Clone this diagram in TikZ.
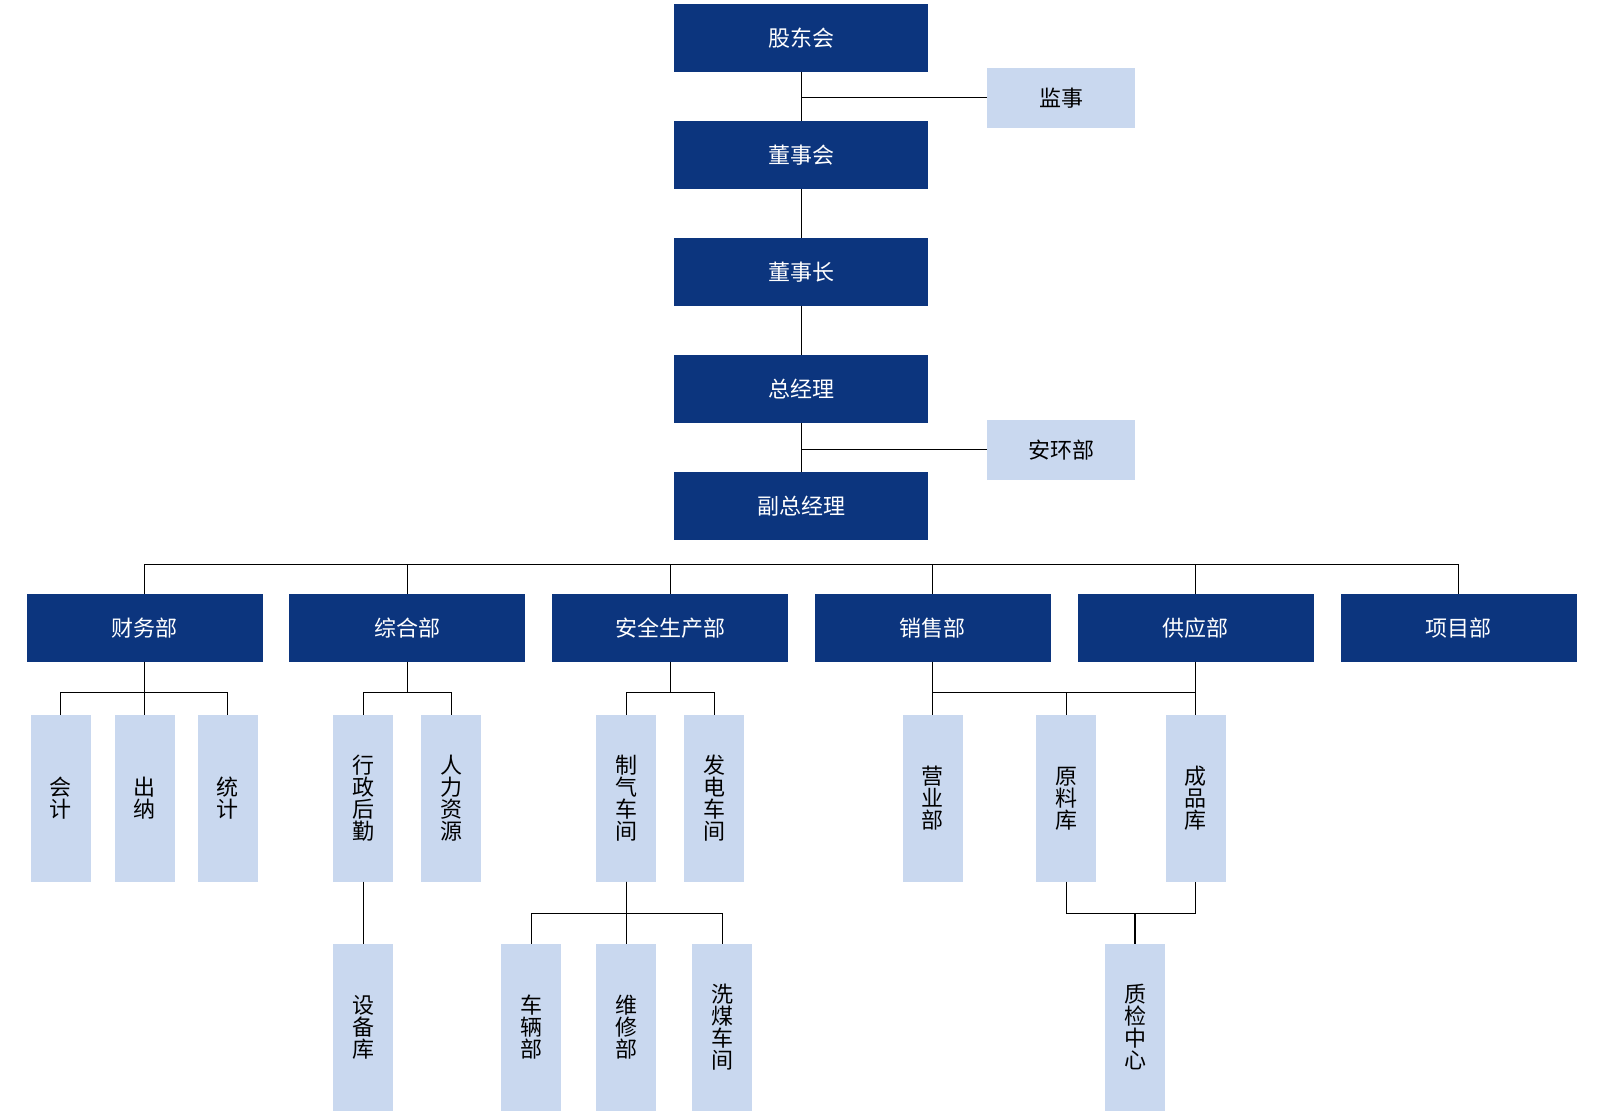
\documentclass[tikz,border=0pt]{standalone}
\usepackage{fontspec}
\newfontfamily\cjk{Noto Sans CJK SC}
\usetikzlibrary{positioning}
\definecolor{navy}{RGB}{12,53,126}
\definecolor{paleBlue}{RGB}{201,216,239}

\begin{document}
\begin{tikzpicture}[x=1pt, y=-1pt, line width=1.1pt,
    font=\cjk\fontsize{22}{22}\selectfont,
    every node/.style={inner sep=0pt, outer sep=0pt},
    topBox/.style={fill=navy, text=white, minimum width=254pt, minimum height=67.7pt},
    sideBox/.style={fill=paleBlue, minimum width=148pt, minimum height=59.7pt},
    deptBox/.style={fill=navy, text=white, minimum width=236pt, minimum height=67.7pt},
    subBox/.style={fill=paleBlue, minimum width=60pt, minimum height=166.7pt, align=center}]
    \useasboundingbox (0,0) rectangle (1600,1116);

    \node[topBox] (meeting) at (801.3,37.8) {股东会};
    \node[topBox, below=49.3pt of meeting] (board) {董事会};
    \node[topBox, below=49.3pt of board] (chair) {董事长};
    \node[topBox, below=49.3pt of chair] (gm) {总经理};
    \node[topBox, below=49.3pt of gm] (vgm) {副总经理};

    \node[sideBox] (supervisor) at (1061,97.8) {监事};
    \node[sideBox] (safetyEnv) at (1061,449.8) {安环部};

    \node[deptBox] (finance) at (144.5,627.8) {财务部};
    \node[deptBox, right=26.8pt of finance] (general) {综合部};
    \node[deptBox, right=26.8pt of general] (production) {安全生产部};
    \node[deptBox, right=26.8pt of production] (sales) {销售部};
    \node[deptBox, right=26.8pt of sales] (supply) {供应部};
    \node[deptBox, right=26.8pt of supply] (project) {项目部};

    \node[subBox] (accounting) at (60.5,798.3) {会\\计};
    \node[subBox] (cashier) at (144.5,798.3) {出\\纳};
    \node[subBox] (statistics) at (227.5,798.3) {统\\计};
    \node[subBox] (admin) at (363.4,798.3) {行\\政\\后\\勤};
    \node[subBox] (hr) at (451.3,798.3) {人\\力\\资\\源};
    \node[subBox] (gasShop) at (626.3,798.3) {制\\气\\车\\间};
    \node[subBox] (powerShop) at (714.3,798.3) {发\\电\\车\\间};
    \node[subBox] (business) at (932.9,798.3) {营\\业\\部};
    \node[subBox] (rawStore) at (1066.3,798.3) {原\\料\\库};
    \node[subBox] (productStore) at (1195.7,798.3) {成\\品\\库};

    \node[subBox] (equipStore) at (363.4,1027.3) {设\\备\\库};
    \node[subBox] (vehicle) at (531.3,1027.3) {车\\辆\\部};
    \node[subBox] (repair) at (626.3,1027.3) {维\\修\\部};
    \node[subBox] (washShop) at (722.3,1027.3) {洗\\煤\\车\\间};
    \node[subBox] (qcCenter) at (1135,1027.3) {质\\检\\中\\心};

    \coordinate (topBus) at (0,564.3);
    \coordinate (subBus) at (0,692.3);
    \coordinate (lowBus) at (0,913.3);

    \draw (meeting.south) -- (board.north);
    \draw (board.south) -- (chair.north);
    \draw (chair.south) -- (gm.north);
    \draw (gm.south) -- (vgm.north);
    \draw (supervisor.west) -- (supervisor.west -| meeting.south);
    \draw (safetyEnv.west) -- (safetyEnv.west -| gm.south);

    \foreach \d in {general,production,sales,supply,project}
        \draw (finance.north) -- (finance.north |- topBus) -| (\d.north);

    \foreach \s in {accounting,cashier,statistics}
        \draw (finance.south) -- (finance.south |- subBus) -| (\s.north);
    \foreach \s in {admin,hr}
        \draw (general.south) -- (general.south |- subBus) -| (\s.north);
    \foreach \s in {gasShop,powerShop}
        \draw (production.south) -- (production.south |- subBus) -| (\s.north);
    \foreach \s in {business,rawStore,productStore}
        \draw (sales.south) -- (sales.south |- subBus) -| (\s.north);
    \draw (supply.south) -- (supply.south |- productStore.north);

    \draw (admin.south) -- (equipStore.north);
    \foreach \s in {vehicle,repair,washShop}
        \draw (gasShop.south) -- (gasShop.south |- lowBus) -| (\s.north);
    \draw (rawStore.south) -- (rawStore.south |- lowBus) -| (productStore.south);
    \draw (qcCenter.north) -- (qcCenter.north |- lowBus);
\end{tikzpicture}
\end{document}
